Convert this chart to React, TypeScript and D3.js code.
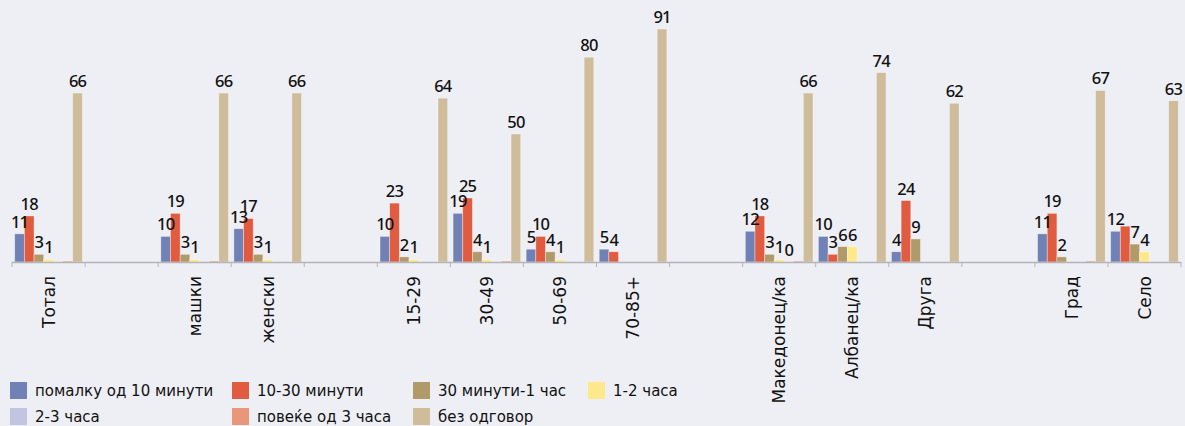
import React from 'react';
import * as d3 from 'd3';

// categories (blank keys are the gaps between groups)
const categories = ['Тотал', '_g1', 'машки', 'женски', '_g2', '15-29', '30-49', '50-69', '70-85+', '_g3', 'Македонец/ка', 'Албанец/ка', 'Друга', '_g4', 'Град', 'Село'];

const seriesNames = ['помалку од 10 минути', '10-30 минути', '30 минути-1 час', '1-2 часа', '2-3 часа', 'повеќе од 3 часа', 'без одговор'];
const colors = ['#7081b6', '#e05b3f', '#b09a6a', '#fde98b', '#c1c5e1', '#e9967b', '#cebc9b'];

type V = number | null;
const lessThan10: V[] = [11, null, 10, 13, null, 10, 19, 5, 5, null, 12, 10, 4, null, 11, 12];
const min10to30: V[] = [18, null, 19, 17, null, 23, 25, 10, 4, null, 18, 3, 24, null, 19, 14];
const min30to1h: V[] = [3, null, 3, 3, null, 2, 4, 4, null, null, 3, 6, 9, null, 2, 7];
const h1to2: V[] = [1, null, 1, 1, null, 1, 1, 1, null, null, 1, 6, null, null, null, 4];
const h2to3: V[] = [null, null, null, null, null, null, null, null, null, null, 0, null, null, null, null, null];
const over3h: V[] = [0.4, null, 0.4, null, null, null, 0.4, null, null, null, 0.4, null, null, null, 0.4, null];
const noAnswer: V[] = [66, null, 66, 66, null, 64, 50, 80, 91, null, 66, 74, 62, null, 67, 63];

const seriesValues = [lessThan10, min10to30, min30to1h, h1to2, h2to3, over3h, noAnswer];
// labels hidden in the original (overlapping)
const hiddenLabels = ['Село|1'];

const W = 1185;
const H = 426;
const FONT = '"DejaVu Sans", "Noto Sans", sans-serif';
const NUM_FONT = '"Noto Sans", "DejaVu Sans", sans-serif';

const App: React.FC = () => {
  const x = d3.scaleBand<string>().domain(categories).range([12, 1181]).padding(0);
  const inner = d3.scaleBand<string>()
    .domain(seriesNames)
    .range([0, x.bandwidth()])
    .paddingInner(0)
    .paddingOuter(0.28);
  const y = d3.scaleLinear().domain([0, 100]).range([262, 6]);
  const base = y(0);

  const bars: React.ReactNode[] = [];
  const labels: React.ReactNode[] = [];
  seriesValues.forEach((vals, si) => {
    vals.forEach((v, ci) => {
      if (v === null) return;
      const cat = categories[ci];
      const bx = (x(cat) || 0) + (inner(seriesNames[si]) || 0);
      const bw = inner.bandwidth();
      if (v > 0) {
        bars.push(
          <rect key={`b${si}-${ci}`} x={bx} y={y(v)} width={bw} height={base - y(v)}
            fill={colors[si]} stroke="rgba(255,255,255,0.45)" strokeWidth={0.8} />
        );
      }
      const showLabel = (v >= 0.5 || v === 0) && !hiddenLabels.includes(`${cat}|${si}`);
      if (showLabel) {
        labels.push(
          <text key={`l${si}-${ci}`} x={bx + bw / 2} y={y(v) - 6} textAnchor="middle"
            fontFamily={NUM_FONT} fontSize={16.5} fontWeight={500} fill="#111" letterSpacing={-0.8}>
            {d3.format('d')(v)}
          </text>
        );
      }
    });
  });

  const legendCols = [10, 232, 413, 588];
  const legendRows = [382, 408];

  return (
    <svg width={W} height={H} style={{ position: 'absolute', left: 0, top: 0, background: '#eeeff5', fontFamily: FONT }}>
      <rect width={W} height={H} fill="#eeeff5" />
      {bars}
      {/* axis */}
      <line x1={12} x2={1181} y1={base + 0.5} y2={base + 0.5} stroke="#b4b4b8" strokeWidth={1.5} />
      {categories.map((c) => (
        <line key={`t${c}`} x1={(x(c) || 0)} x2={(x(c) || 0)} y1={base} y2={base + 5} stroke="#b4b4b8" />
      ))}
      <line x1={1181} x2={1181} y1={base} y2={base + 5} stroke="#b4b4b8" />
      {categories.filter((c) => !c.startsWith('_')).map((c) => {
        const cx = (x(c) || 0) + x.bandwidth() / 2;
        return (
          <text key={`c${c}`} transform={`translate(${cx},276) rotate(-90)`} textAnchor="end" dy="0.36em"
            fontSize={17} fill="#111">{c}</text>
        );
      })}
      {labels}
      {/* legend */}
      {seriesNames.map((s, i) => {
        const col = i % 4;
        const row = Math.floor(i / 4);
        const lx = legendCols[col];
        const ly = legendRows[row];
        return (
          <g key={`lg${i}`}>
            <rect x={lx} y={ly} width={17} height={17} fill={colors[i]} />
            <text x={lx + 25} y={ly + 14} fontSize={15} fill="#111">{s}</text>
          </g>
        );
      })}
    </svg>
  );
};

export default App;
